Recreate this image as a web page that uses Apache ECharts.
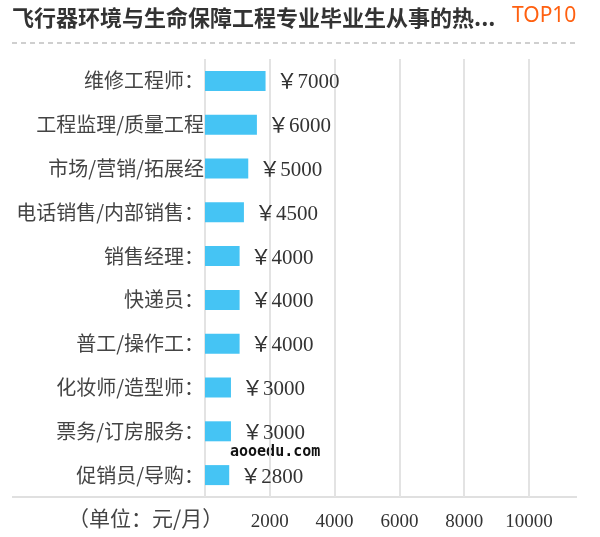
<!DOCTYPE html>
<html>
<head>
<meta charset="utf-8">
<script src="https://cdn.jsdelivr.net/npm/echarts@6/dist/echarts.min.js"></script>
<style>html,body{margin:0;padding:0;background:#fff;}#c{width:600px;height:537px;}</style>
</head>
<body>
<div id="c"></div>
<script>
var titleText = '飞行器环境与生命保障工程专业毕业生从事的热...';
var badgeText = 'TOP10';
var unitText = '（单位：元/月）';
var watermarkText = 'aooedu.com';
var categories = ['维修工程师：', '工程监理/质量工程', '市场/营销/拓展经', '电话销售/内部销售：', '销售经理：', '快递员：', '普工/操作工：', '化妆师/造型师：', '票务/订房服务：', '促销员/导购：'];
var salaries = [7000, 6000, 5000, 4500, 4000, 4000, 4000, 3000, 3000, 2800];
var tickMax = 11480;
var tickInterval = 2000;

var chart = echarts.init(document.getElementById('c'), null, {renderer: 'canvas'});
var cjk = '"Noto Sans CJK SC", sans-serif';
var serif = '"Liberation Serif", "Noto Sans CJK SC", serif';
chart.setOption({
  animation: false,
  backgroundColor: '#fff',
  grid: {left: 205, right: 23, top: 59, bottom: 40, containLabel: false},
  xAxis: [{
    type: 'value', min: 0, max: tickMax, interval: tickInterval, position: 'bottom',
    axisLine: {show: false}, axisTick: {show: false},
    splitLine: {show: true, showMinLine: true, showMaxLine: false, lineStyle: {color: '#e3e3e3', width: 2}},
    axisLabel: {showMinLabel: false, showMaxLabel: false, margin: 16, fontSize: 19, fontFamily: serif, color: '#333',
      formatter: function (v) { return String(v); }}
  }, {
    type: 'value', min: 0, max: 43000, show: false
  }],
  yAxis: {
    type: 'category', data: categories, inverse: true,
    axisLine: {show: false}, axisTick: {show: false}, splitLine: {show: false},
    axisLabel: {margin: 1, fontSize: 20, fontFamily: cjk, color: '#444'}
  },
  series: [{
    type: 'bar', xAxisIndex: 1, data: salaries, barWidth: 20,
    itemStyle: {color: '#45c4f4'},
    label: {show: true, position: 'right', distance: 11, formatter: '￥{c}', fontSize: 21, fontFamily: serif, color: '#333', offset: [0, 2]}
  }],
  graphic: [
    {type: 'text', left: 12, top: 7, style: {text: titleText, fontSize: 22, fontWeight: 'bold', fontFamily: cjk, fill: '#333'}},
    {type: 'text', left: 512, top: 6, style: {text: badgeText, fontSize: 21, fontFamily: '"Noto Sans", sans-serif', fill: '#ff6010'}},
    {type: 'line', shape: {x1: 12, y1: 43, x2: 577, y2: 43}, style: {stroke: '#cfcfcf', lineWidth: 2, lineDash: [5, 4]}},
    {type: 'line', shape: {x1: 12, y1: 497, x2: 577, y2: 497}, style: {stroke: '#e0e0e0', lineWidth: 2}},
    {type: 'text', left: 68, top: 508, style: {text: unitText, fontSize: 21, fontFamily: cjk, fill: '#444'}},
    {type: 'text', left: 230, top: 445, style: {text: watermarkText, fontSize: 15, fontWeight: 'bold', fontFamily: '"DejaVu Sans Mono", monospace', fill: '#111'}}
  ]
});
</script>
</body>
</html>
